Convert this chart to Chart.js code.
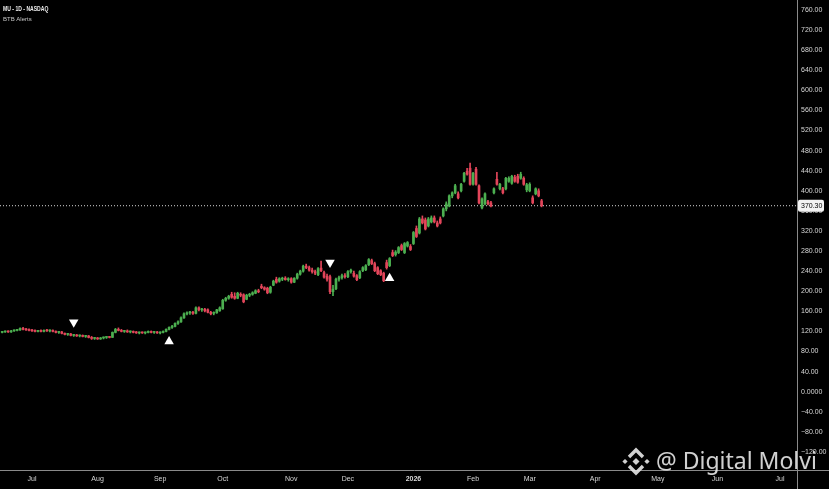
<!DOCTYPE html>
<html>
<head>
<meta charset="utf-8">
<script src="https://cdn.jsdelivr.net/npm/chart.js@4.4.1/dist/chart.umd.min.js"></script>
<style>
  html, body { margin: 0; padding: 0; background: #000; }
  #wrap { width: 829px; height: 489px; }
</style>
</head>
<body>
<div id="wrap"><canvas id="chart" width="829" height="489"></canvas></div>
<script>
// MU daily bars, index 0 = 16 Jun 2025 (trading days only)
const opens = [
  118,119,120,119,121,122,123,126,124,123,
  122,121,120,121,120,122,121,122,120,118,
  119,116,114,115,112,113,111,112,110,111,
  108,106,107,105,107,108,109,108,118,124,
  122,120,121,119,120,118,117,118,117,118,
  120,118,119,117,118,120,124,128,130,136,
  139,147,155,157,158,156,167,163,164,163,
  158,156,157,161,165,182,186,194,190,186,
  194,193,184,192,194,196,201,210,207,206,
  198,212,224,220,224,226,223,225,218,226,
  234,240,250,247,242,239,233,246,237,230,
  229,199,205,224,227,231,229,239,236,231,
  227,241,243,253,261,255,247,241,236,257,
  251,277,273,277,291,277,290,289,295,325,
  316,344,342,330,338,346,336,344,350,364,
  370,390,396,394,400,419,439,445,413,443,
  410,366,374,378,376,396,423,404,404,404,
  419,415,427,429,425,425,402,400,386,394,
  400,380
];
const highs = [
  120,121,121,122,123,124,127,128,126,125,
  124,123,122,123,123,124,123,123,121,120,
  120,117,116,116,114,114,113,113,112,112,
  110,108,108,108,109,110,110,119,126,127,
  124,122,123,121,121,120,119,119,119,121,
  121,120,120,119,121,125,129,132,137,141,
  149,157,159,160,160,169,169,166,166,165,
  160,159,164,169,184,188,192,198,197,198,
  197,195,194,196,199,203,204,214,209,208,
  210,222,228,227,228,229,227,227,227,236,
  242,252,254,250,246,242,247,260,240,234,
  232,212,226,230,234,235,241,244,240,233,
  241,249,253,265,264,258,249,243,238,262,
  267,282,281,289,294,297,299,293,319,330,
  347,350,346,347,350,350,340,348,366,378,
  392,398,413,398,415,437,445,455,437,447,
  412,386,396,381,379,406,437,415,407,427,
  428,431,431,433,437,428,415,416,390,406,
  404,383
];
const lows = [
  117,118,118,118,120,121,122,123,122,121,
  120,119,119,119,119,120,119,119,117,116,
  115,113,112,111,110,110,109,109,108,107,
  104,104,104,104,105,106,107,108,117,121,
  119,118,118,117,117,116,115,116,115,117,
  117,116,116,115,117,119,123,126,129,134,
  138,146,153,154,154,155,161,160,159,157,
  153,153,156,160,164,180,184,186,184,185,
  189,177,183,189,192,195,197,205,202,195,
  196,211,216,218,221,222,220,216,217,224,
  232,238,245,240,236,233,231,239,226,220,
  195,191,203,220,224,226,227,236,228,221,
  225,239,241,251,253,239,233,231,219,244,
  249,269,270,275,281,275,288,281,293,307,
  314,334,322,328,336,336,328,334,348,360,
  368,386,394,384,398,417,431,411,411,411,
  374,364,372,372,368,394,411,402,394,402,
  417,413,417,415,423,411,398,398,374,392,
  388,368
];
const closes = [
  119,120,119,121,122,123,126,124,123,122,
  121,120,121,120,122,121,122,120,118,119,
  116,114,115,112,113,111,112,110,111,108,
  106,107,105,107,108,109,108,118,124,122,
  120,121,119,120,118,117,118,117,118,120,
  118,119,117,118,120,124,128,130,136,139,
  147,155,157,158,156,167,163,164,161,158,
  155,157,163,167,182,186,190,188,186,196,
  192,179,192,194,197,201,199,207,204,197,
  208,220,218,225,226,223,225,218,226,234,
  240,250,247,242,239,236,245,241,228,224,
  199,204,224,227,231,229,239,242,230,223,
  239,247,251,263,255,241,235,233,221,247,
  265,271,278,287,283,295,297,283,317,309,
  344,336,324,344,346,338,330,336,364,374,
  390,396,410,386,413,435,433,413,435,413,
  376,384,394,374,370,404,413,413,396,425,
  425,429,419,417,433,413,412,413,376,404,
  390,370.3
];

// first bar of each month on the time axis
const monthIdx = [10, 32, 53, 74, 97, 116, 138, 158, 177, 199, 220, 240, 261];
const monthLabels = ['Jul', 'Aug', 'Sep', 'Oct', 'Nov', 'Dec', '2026', 'Feb', 'Mar', 'Apr', 'May', 'Jun', 'Jul'];
const yTicks = [760, 720, 680, 640, 600, 560, 520, 480, 440, 400, 360, 320, 280, 240, 200, 160, 120, 80, 40, 0, -40, -80, -120];

const lastPrice = 370.30;

// BTB alert markers
const alertDownIdx = [24, 110];
const alertDownPrice = [138, 257];
const alertUpIdx = [56, 130];
const alertUpPrice = [100, 226];

const X_MIN = -0.74, X_MAX = 266.7;
const Y_MIN = -156, Y_MAX = 780;

const UP = '#4caf50';
const DOWN = '#e2455a';
const AXIS_FONT = "'Liberation Sans', Arial, sans-serif";

const barIdx = closes.map((_, i) => i);
const colors = barIdx.map(i => closes[i] >= opens[i] ? UP : DOWN);

function diamond(ctx, cx, cy, r) {
    ctx.beginPath();
    ctx.moveTo(cx, cy - r);
    ctx.lineTo(cx + r, cy);
    ctx.lineTo(cx, cy + r);
    ctx.lineTo(cx - r, cy);
    ctx.closePath();
    ctx.fill();
}

// axis lines, last price tag, header and watermark
const overlay = {
    id: 'overlay',
    afterDraw(chart) {
        const ctx = chart.ctx;
        const area = chart.chartArea;
        ctx.save();

        ctx.strokeStyle = '#8a8a8a';
        ctx.lineWidth = 1;
        ctx.beginPath();
        ctx.moveTo(0, area.bottom + 0.5);
        ctx.lineTo(chart.width, area.bottom + 0.5);
        ctx.moveTo(area.right + 0.5, 0);
        ctx.lineTo(area.right + 0.5, chart.height);
        ctx.stroke();

        // price tag
        const py = chart.scales.y.getPixelForValue(lastPrice);
        ctx.fillStyle = '#f2f2f2';
        ctx.beginPath();
        ctx.roundRect(area.right + 1, py - 6, 26, 12, 2);
        ctx.fill();
        ctx.fillStyle = '#000';
        ctx.font = '7px ' + AXIS_FONT;
        ctx.textBaseline = 'middle';
        ctx.textAlign = 'left';
        ctx.fillText(lastPrice.toFixed(2), area.right + 4, py + 0.5);

        // header
        ctx.save();
        ctx.scale(0.78, 1);
        ctx.fillStyle = '#ececec';
        ctx.font = 'bold 6.5px ' + AXIS_FONT;
        ctx.fillText('MU - 1D - NASDAQ', 3 / 0.78, 9);
        ctx.restore();
        ctx.fillStyle = '#c8c8c8';
        ctx.font = '6px ' + AXIS_FONT;
        ctx.textBaseline = 'middle';
        ctx.fillText('BTB Alerts', 3, 19);

        // watermark
        const wm = 'rgba(232,232,232,0.9)';
        const cx = 636, cy = 461.5;
        ctx.fillStyle = wm;
        ctx.strokeStyle = wm;
        diamond(ctx, cx, cy, 3.5);
        diamond(ctx, cx - 11, cy, 2.6);
        diamond(ctx, cx + 11, cy, 2.6);
        ctx.lineWidth = 3.4;
        ctx.lineJoin = 'miter';
        ctx.beginPath();
        ctx.moveTo(cx - 7, cy - 4.5);
        ctx.lineTo(cx, cy - 11.5);
        ctx.lineTo(cx + 7, cy - 4.5);
        ctx.moveTo(cx - 7, cy + 4.5);
        ctx.lineTo(cx, cy + 11.5);
        ctx.lineTo(cx + 7, cy + 4.5);
        ctx.stroke();

        ctx.font = "23px 'Noto Sans', sans-serif";
        ctx.textBaseline = 'alphabetic';
        ctx.fillText('@ Digital Molvi', 656, 469);

        ctx.restore();
    }
};

new Chart(document.getElementById('chart'), {
    type: 'bar',
    data: {
        datasets: [
            {
                type: 'line',
                data: [{ x: X_MIN, y: lastPrice }, { x: X_MAX, y: lastPrice }],
                borderColor: '#d6d6d6',
                borderWidth: 1,
                borderDash: [1, 2],
                pointRadius: 0,
                order: 5
            },
            {
                label: 'wick',
                data: barIdx.map(i => ({ x: i, y: [lows[i], highs[i]] })),
                backgroundColor: colors,
                barThickness: 1,
                grouped: false,
                order: 4
            },
            {
                label: 'body',
                data: barIdx.map(i => ({ x: i, y: [opens[i], closes[i]] })),
                backgroundColor: colors,
                barThickness: 2,
                minBarLength: 1,
                grouped: false,
                order: 3
            },
            {
                type: 'scatter',
                data: alertDownIdx.map((x, k) => ({ x: x, y: alertDownPrice[k] })),
                pointStyle: 'triangle',
                rotation: 180,
                radius: 5.5,
                backgroundColor: '#ffffff',
                borderColor: '#ffffff',
                borderWidth: 0,
                order: 1
            },
            {
                type: 'scatter',
                data: alertUpIdx.map((x, k) => ({ x: x, y: alertUpPrice[k] })),
                pointStyle: 'triangle',
                radius: 5.5,
                backgroundColor: '#ffffff',
                borderColor: '#ffffff',
                borderWidth: 0,
                order: 1
            }
        ]
    },
    options: {
        responsive: false,
        animation: false,
        layout: { padding: 0, autoPadding: false },
        plugins: { legend: { display: false }, tooltip: { enabled: false } },
        scales: {
            x: {
                type: 'linear',
                min: X_MIN,
                max: X_MAX,
                offset: false,
                grid: { display: false, drawTicks: false },
                border: { display: false },
                afterBuildTicks: s => { s.ticks = monthIdx.map(v => ({ value: v })); },
                afterFit: s => { s.height = 19; s.paddingLeft = 0; s.paddingRight = 0; },
                ticks: {
                    autoSkip: false,
                    maxRotation: 0,
                    padding: 5,
                    color: '#d8d8d8',
                    font: c => ({
                        family: AXIS_FONT,
                        size: 7,
                        weight: c.tick && monthLabels[monthIdx.indexOf(c.tick.value)] === '2026' ? 'bold' : 'normal'
                    }),
                    callback: v => monthLabels[monthIdx.indexOf(v)]
                }
            },
            y: {
                position: 'right',
                min: Y_MIN,
                max: Y_MAX,
                grid: { display: false, drawTicks: false },
                border: { display: false },
                afterBuildTicks: s => { s.ticks = yTicks.map(v => ({ value: v })); },
                afterFit: s => { s.width = 32; s.paddingTop = 0; s.paddingBottom = 0; },
                ticks: {
                    padding: 4,
                    color: '#d8d8d8',
                    font: { family: AXIS_FONT, size: 7 },
                    callback: v => v === 0 ? '0.0000' : (v < 0 ? '\u2212' + Math.abs(v).toFixed(2) : v.toFixed(2))
                }
            }
        }
    },
    plugins: [overlay]
});
</script>
</body>
</html>
